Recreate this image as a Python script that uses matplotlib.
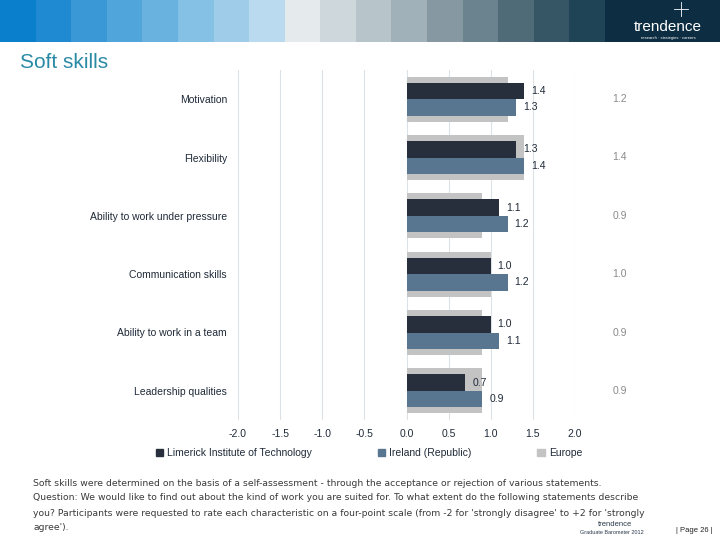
import numpy as np
import matplotlib
matplotlib.use("Agg")
import matplotlib.pyplot as plt
from matplotlib.patches import Rectangle

plt.rcParams['font.family'] = ['Liberation Sans', 'DejaVu Sans']

skills = ["Motivation", "Flexibility", "Ability to work under pressure",
          "Communication skills", "Ability to work in a team", "Leadership qualities"]
lit = [1.4, 1.3, 1.1, 1.0, 1.0, 0.7]
ireland = [1.3, 1.4, 1.2, 1.2, 1.1, 0.9]
europe = [1.2, 1.4, 0.9, 1.0, 0.9, 0.9]
series_names = ["Limerick Institute of Technology", "Ireland (Republic)", "Europe"]
xticks = [-2.0, -1.5, -1.0, -0.5, 0.0, 0.5, 1.0, 1.5, 2.0]

band_cols = ["#0a7fcc", "#1f8ad1", "#3a98d6", "#50a5da", "#69b2df", "#85c0e5", "#9ecce9",
             "#b9daef", "#e5eaed", "#cdd7dc", "#b7c4ca", "#a0b1b9", "#8699a3", "#6b838e",
             "#506b78", "#365565", "#1f4456"]

c_lit = "#272f3d"
c_irl = "#587690"
c_eu = "#c3c3c3"
c_txt = "#1f2a38"

fig = plt.figure(figsize=(7.2, 5.4), dpi=100)

# header band
hb = fig.add_axes([0, 1 - 42 / 540, 1, 42 / 540])
hb.set_xlim(0, 720)
hb.set_ylim(0, 1)
hb.axis("off")
w = 605 / len(band_cols)
for i, c in enumerate(band_cols):
    hb.add_patch(Rectangle((i * w, 0), w + 0.5, 1, color=c, lw=0))
hb.add_patch(Rectangle((605, 0), 115, 1, color="#0d2e42", lw=0))
hb.text(668, 0.36, "trendence", color="white", fontsize=11, ha="center", va="center")
hb.text(668, 0.1, "research \u00b7 strategies \u00b7 careers", color="white", fontsize=3, ha="center", va="center")
hb.plot([681, 681], [0.62, 0.95], color="white", lw=0.6)
hb.plot([674, 688], [0.78, 0.78], color="white", lw=0.6)

fig.text(20 / 720, 1 - 63 / 540, "Soft skills", color="#2a8aa6", fontsize=15, va="center")

ax = fig.add_axes([238 / 720, 1 - 420 / 540, 337 / 720, 350 / 540])
y = np.arange(len(skills))
h = 0.285
ax.barh(y, europe, height=0.77, color=c_eu, zorder=2)
ax.barh(y - h / 2, lit, height=h, color=c_lit, zorder=3)
ax.barh(y + h / 2, ireland, height=h, color=c_irl, zorder=3)

for i in range(len(skills)):
    ax.annotate(f"{lit[i]:.1f}", (lit[i], y[i] - h / 2), xytext=(5, 0), textcoords="offset points",
                va="center", fontsize=7.5, color=c_txt, zorder=4)
    ax.annotate(f"{ireland[i]:.1f}", (ireland[i], y[i] + h / 2), xytext=(5, 0), textcoords="offset points",
                va="center", fontsize=7.5, color=c_txt, zorder=4)
    ax.text(2.53, y[i], f"{europe[i]:.1f}", va="center", ha="center", fontsize=7.5, color="#8a8a8a")

ax.set_xlim(-2.0, 2.0)
ax.set_ylim(len(skills) - 0.5, -0.5)
ax.set_xticks(xticks)
ax.set_xticklabels([f"{v:.1f}" for v in xticks], fontsize=7.5, color=c_txt)
ax.set_yticks(y)
ax.set_yticklabels(skills, fontsize=7.5, color=c_txt)
ax.tick_params(length=0, pad=8)
ax.tick_params(axis="x", pad=6.5)
ax.grid(axis="x", color="#dce3e8", lw=0.8, zorder=0)
for s in ax.spines.values():
    s.set_visible(False)

handles = [Rectangle((0, 0), 1, 1, color=c) for c in (c_lit, c_irl, c_eu)]
fig.legend(handles, series_names, loc="center", bbox_to_anchor=(369 / 720, 1 - 453 / 540), ncol=3,
           frameon=False, fontsize=7.5, handlelength=0.7, handleheight=0.7, handletextpad=0.4,
           columnspacing=6.3, labelcolor=c_txt)

notes = ["Soft skills were determined on the basis of a self-assessment - through the acceptance or rejection of various statements.",
         "Question: We would like to find out about the kind of work you are suited for. To what extent do the following statements describe",
         "you? Participants were requested to rate each characteristic on a four-point scale (from -2 for 'strongly disagree' to +2 for 'strongly",
         "agree')."]
for k, line in enumerate(notes):
    fig.text(33 / 720, 1 - (483 + 15.0 * k) / 540, line, fontsize=6.7, color="#3a3a3a", va="center",
             family="DejaVu Sans")

fig.text(615 / 720, 1 - 524 / 540, "trendence", fontsize=5.5, color="#2a3a4a", ha="center", va="center")
fig.text(612 / 720, 1 - 532 / 540, "Graduate Barometer 2012", fontsize=4, color="#2a3a4a", ha="center", va="center")
fig.text(694 / 720, 1 - 530 / 540, "| Page 26 |", fontsize=5.5, color="#222222", ha="center", va="center")

fig.savefig("out.png", dpi=100)
